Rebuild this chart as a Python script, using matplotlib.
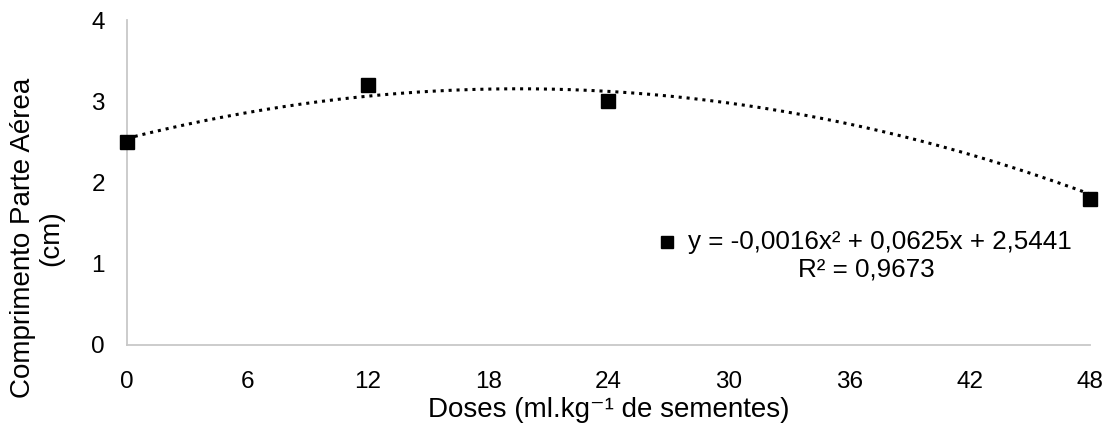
import numpy as np
import matplotlib
matplotlib.use("Agg")
import matplotlib.pyplot as plt

plt.rcParams['font.family'] = ['Liberation Sans', 'DejaVu Sans']

# data
doses = [0, 12, 24, 48]
comprimento = [2.5, 3.2, 3.0, 1.8]
coef = [-0.0016, 0.0625, 2.5441]   # trend: a*x^2 + b*x + c
x_ticks = [0, 6, 12, 18, 24, 30, 36, 42, 48]
y_ticks = [0, 1, 2, 3, 4]

fig = plt.figure(figsize=(11.13, 4.28), dpi=100)
ax = fig.add_axes([0.1141, 0.194, 0.8652, 0.759])

xs = np.linspace(0, 48, 300)
ax.plot(xs, np.polyval(coef, xs), color='black', linestyle=(0, (1, 1.6)),
        linewidth=2.2, zorder=2)
ax.plot(doses, comprimento, 's', color='black', markersize=10, zorder=3,
        clip_on=False)

ax.set_xlim(0, 48)
ax.set_ylim(0, 4)
ax.set_xticks(x_ticks)
ax.set_yticks(y_ticks)
ax.tick_params(length=0, labelsize=17.5)
ax.tick_params(axis='x', pad=19)
ax.tick_params(axis='y', pad=16)
for s in ['top', 'right']:
    ax.spines[s].set_visible(False)
for s in ['left', 'bottom']:
    ax.spines[s].set_color('#c8c8c8')
    ax.spines[s].set_linewidth(1.3)

ax.set_xlabel('Doses (ml.kg\u207b\u00b9 de sementes)', fontsize=20)
ax.xaxis.set_label_coords(0.5, -0.16)
ax.set_ylabel('Comprimento Parte Aérea\n(cm)', fontsize=20, linespacing=1.1)
ax.yaxis.set_label_coords(-0.065, 0.33)

# equation label with its marker
ax.plot([0.561], [0.317], 's', color='black', markersize=8,
        transform=ax.transAxes, clip_on=False)
ax.text(0.782, 0.317, 'y = -0,0016x\u00b2 + 0,0625x + 2,5441', fontsize=18.7,
        ha='center', va='center', transform=ax.transAxes)
ax.text(0.768, 0.231, 'R² = 0,9673', fontsize=18.7,
        ha='center', va='center', transform=ax.transAxes)

fig.savefig('out.png', dpi=100)
